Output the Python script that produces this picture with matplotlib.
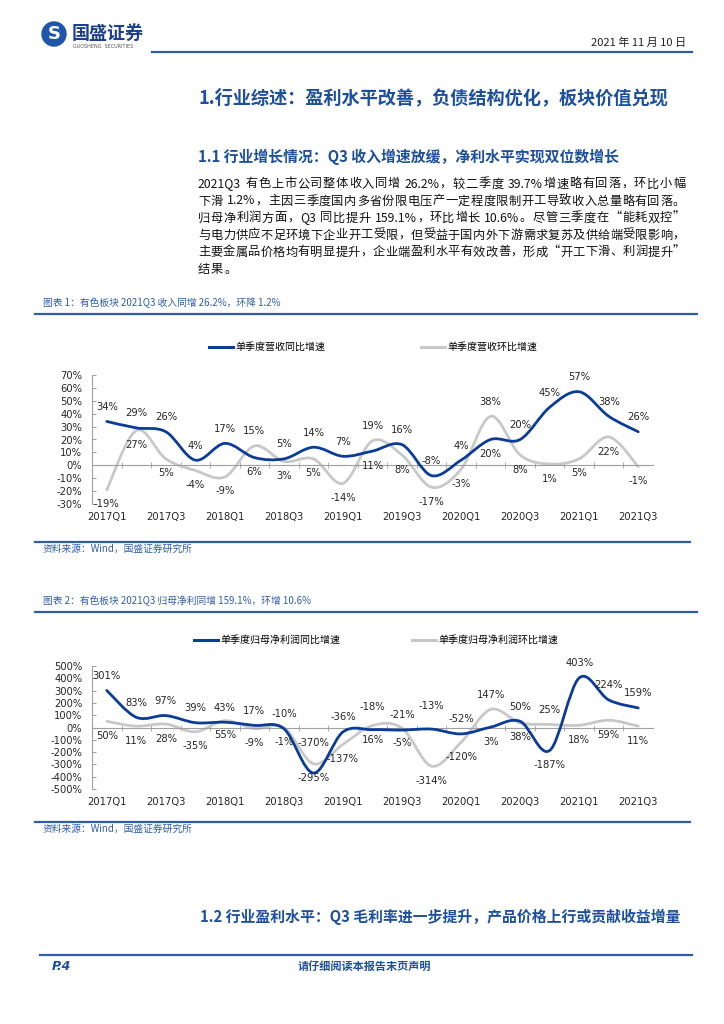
import re
import matplotlib
matplotlib.use('Agg')
import matplotlib.pyplot as plt
from matplotlib.path import Path
from matplotlib.patches import PathPatch, Circle
from matplotlib.lines import Line2D

plt.rcParams['font.family'] = ['DejaVu Sans', 'Noto Sans CJK SC']
CJK = ['Noto Sans CJK SC', 'DejaVu Sans']

# ---- data ----
quarters = ['2017Q1', '2017Q2', '2017Q3', '2017Q4', '2018Q1', '2018Q2', '2018Q3', '2018Q4',
            '2019Q1', '2019Q2', '2019Q3', '2019Q4', '2020Q1', '2020Q2', '2020Q3', '2020Q4',
            '2021Q1', '2021Q2', '2021Q3']

rev_yoy = [34, 29, 26, 4, 17, 6, 5, 14, 7, 11, 16, -8, 4, 20, 20, 45, 57, 38, 26]
rev_qoq = [-19, 27, 5, -4, -9, 15, 3, 5, -14, 19, 8, -17, -3, 38, 8, 1, 5, 22, -1]

profit_yoy = [301, 83, 97, 39, 43, 17, -10, -370, -36, -18, -21, -13, -52, 3, 50, -187, 403, 224, 159]
profit_qoq = [50, 11, 28, -35, 55, -9, -1, -295, -137, 16, -5, -314, -120, 147, 38, 25, 18, 59, 11]

rev_labels = ['单季度营收同比增速', '单季度营收环比增速']
profit_labels = ['单季度归母净利润同比增速', '单季度归母净利润环比增速']

body_lines = [
    '2021Q3 有色上市公司整体收入同增 26.2%，较二季度 39.7%增速略有回落，环比小幅',
    '下滑 1.2%，主因三季度国内多省份限电压产一定程度限制开工导致收入总量略有回落。',
    '归母净利润方面，Q3 同比提升 159.1%，环比增长 10.6%。尽管三季度在“能耗双控”',
    '与电力供应不足环境下企业开工受限，但受益于国内外下游需求复苏及供给端受限影响，',
    '主要金属品价格均有明显提升，企业端盈利水平有效改善，形成“开工下滑、利润提升”',
    '结果。',
]

BLUE = '#0b3c96'
GRAY = '#c8c8c8'
TBLUE = '#1c4f9c'
LBLUE = '#2f5ea8'

fig = plt.figure(figsize=(7.24, 10.24), dpi=100)
renderer = fig.canvas.get_renderer()


def fx(px):
    return px / 724


def fy(py):
    return 1 - py / 1024


def hline(y, x0, x1, color=LBLUE, lw=1.6):
    fig.add_artist(Line2D([fx(x0), fx(x1)], [fy(y), fy(y)], color=color, lw=lw))


def justified(line, x0, x1, y, size, stretch=True):
    tokens = re.findall(r'[A-Za-z0-9.%]+|\s|.', line)
    widths = []
    for tok in tokens:
        t = fig.text(0, 0, tok if tok != ' ' else 'a', family=CJK, fontsize=size)
        w = t.get_window_extent(renderer).width
        t.remove()
        widths.append(w * 0.45 if tok == ' ' else w)
    extra = (x1 - x0 - sum(widths)) / max(len(tokens) - 1, 1) if stretch else 0.8
    x = x0
    for tok, w in zip(tokens, widths):
        if tok != ' ':
            fig.text(fx(x), fy(y), tok, family=CJK, fontsize=size, color='#111111',
                     va='center')
        x += w + extra


def smooth_path(xs, ys):
    pts = list(zip(xs, ys))
    n = len(pts)
    verts = [pts[0]]
    codes = [Path.MOVETO]
    for i in range(n - 1):
        p0 = pts[i - 1] if i > 0 else pts[i]
        p1 = pts[i]
        p2 = pts[i + 1]
        p3 = pts[i + 2] if i + 2 < n else pts[i + 1]
        c1 = (p1[0] + (p2[0] - p0[0]) / 6, p1[1] + (p2[1] - p0[1]) / 6)
        c2 = (p2[0] - (p3[0] - p1[0]) / 6, p2[1] - (p3[1] - p1[1]) / 6)
        verts += [c1, c2, p2]
        codes += [Path.CURVE4] * 3
    return Path(verts, codes)


# ---- page header ----
fig.add_artist(Circle((0.54, 10.24 - 0.34), 0.12, transform=fig.dpi_scale_trans,
                      color='#1f56a8', zorder=3))
fig.text(fx(54), fy(34), 'S', color='white', fontsize=13, fontweight='bold',
         ha='center', va='center', zorder=4)
fig.text(fx(72), fy(33), '国盛证券', family=CJK, fontsize=13, fontweight='bold',
         color='#1b3f8f', va='center')
fig.text(fx(73), fy(46), 'GUOSHENG  SECURITIES', fontsize=3.5, color='#555555', va='center')
fig.text(fx(686), fy(43), '2021 年 11 月 10 日', family=CJK, fontsize=8, ha='right',
         va='center', color='#222222')
hline(52, 152, 692)

# ---- headings and body ----
fig.text(fx(198), fy(98), '1.行业综述：盈利水平改善，负债结构优化，板块价值兑现', family=CJK,
         fontsize=13.1, fontweight='bold', color=TBLUE, va='center')
fig.text(fx(198), fy(157), '1.1 行业增长情况：Q3 收入增速放缓，净利水平实现双位数增长', family=CJK,
         fontsize=10.7, fontweight='bold', color=TBLUE, va='center')
for k, line in enumerate(body_lines):
    justified(line, 198, 685, 184 + k * 17, 8.8, stretch=k < len(body_lines) - 1)

fig.text(fx(200), fy(917), '1.2 行业盈利水平：Q3 毛利率进一步提升，产品价格上行或贡献收益增量',
         family=CJK, fontsize=10.7, fontweight='bold', color=TBLUE, va='center')

# ---- footer ----
hline(955, 40, 692)
fig.text(fx(52), fy(966), 'P.4', fontsize=9, fontweight='bold', style='italic',
         color=TBLUE, va='center')
fig.text(fx(364), fy(966), '请仔细阅读本报告末页声明', family=CJK, fontsize=8,
         fontweight='bold', color=TBLUE, va='center', ha='center')


def draw_chart(ax, yoy, qoq, yoy_top, ylim, step, offsets):
    x = list(range(len(quarters)))
    ax.add_patch(PathPatch(smooth_path(x, qoq), fill=False, edgecolor=GRAY, lw=2.0,
                           capstyle='round', zorder=2))
    ax.add_patch(PathPatch(smooth_path(x, yoy), fill=False, edgecolor=BLUE, lw=2.0,
                           capstyle='round', zorder=3))
    ax.set_xlim(-0.5, len(quarters) - 0.5)
    ax.set_ylim(*ylim)
    for i in x:
        top = yoy_top[i]
        dy_b = offsets.get(i, 10.5)
        ax.annotate(f'{yoy[i]}%', (i, yoy[i]), xytext=(0, dy_b if top else -10.5),
                    textcoords='offset points', ha='center', va='center',
                    fontsize=7.2, color='#262626', zorder=5)
        ax.annotate(f'{qoq[i]}%', (i, qoq[i]), xytext=(0, -10.5 if top else 10.5),
                    textcoords='offset points', ha='center', va='center',
                    fontsize=7.2, color='#262626', zorder=5)
    for s in ['top', 'right']:
        ax.spines[s].set_visible(False)
    ax.spines['left'].set_color('#a0a0a0')
    ax.spines['bottom'].set_color('#a0a0a0')
    ax.spines['bottom'].set_position(('data', 0))
    ax.set_yticks(range(ylim[0], ylim[1] + 1, step))
    ax.set_yticklabels([f'{v}%' for v in range(ylim[0], ylim[1] + 1, step)])
    ax.tick_params(axis='y', direction='in', length=3, color='#a0a0a0', pad=7,
                   labelsize=7.2, labelcolor='#262626')
    ax.set_xticks([i + 0.5 for i in x[:-1]], minor=True)
    ax.set_xticks([])
    ax.tick_params(axis='x', which='minor', direction='inout', length=4, color='#a0a0a0')
    sec = ax.secondary_xaxis(0)
    sec.set_xticks(x[::2])
    sec.set_xticklabels(quarters[::2])
    sec.tick_params(length=0, pad=6, labelsize=7.2, labelcolor='#262626')
    sec.spines['bottom'].set_visible(False)
    ax.patch.set_visible(False)


# ---- chart 1 ----
fig.text(fx(43), fy(303), '图表 1：有色板块 2021Q3 收入同增 26.2%，环降 1.2%', family=CJK,
         fontsize=7, color=LBLUE, va='center')
hline(314, 35, 697)
ax1 = fig.add_axes([fx(92), fy(504), (653 - 92) / 724, (504 - 375) / 1024])
rev_top = [a >= b for a, b in zip(rev_yoy, rev_qoq)]
draw_chart(ax1, rev_yoy, rev_qoq, rev_top, (-30, 70), 10, {})
h = [Line2D([], [], color=BLUE, lw=2.2), Line2D([], [], color=GRAY, lw=2.2)]
fig.legend(h, rev_labels, loc='center', bbox_to_anchor=(fx(373), fy(347)), ncol=2,
           frameon=False, prop={'family': CJK, 'size': 7.2}, handlelength=2.4,
           handletextpad=0.2, columnspacing=9.6)
hline(542, 35, 690)
fig.text(fx(43), fy(549), '资料来源：Wind，国盛证券研究所', family=CJK, fontsize=7,
         color=LBLUE, va='center')

# ---- chart 2 ----
fig.text(fx(43), fy(601), '图表 2：有色板块 2021Q3 归母净利同增 159.1%，环增 10.6%', family=CJK,
         fontsize=7, color=LBLUE, va='center')
hline(612, 35, 697)
ax2 = fig.add_axes([fx(92), fy(789), (653 - 92) / 724, (789 - 666) / 1024])
profit_top = [True] * len(quarters)
profit_top[13] = False
profit_top[15] = False
draw_chart(ax2, profit_yoy, profit_qoq, profit_top, (-500, 500), 100,
           {7: 21.5, 9: 16, 11: 16.5})
fig.legend(h, profit_labels, loc='center', bbox_to_anchor=(fx(376), fy(640)), ncol=2,
           frameon=False, prop={'family': CJK, 'size': 7.2}, handlelength=2.4,
           handletextpad=0.2, columnspacing=7.2)
hline(822, 35, 690)
fig.text(fx(43), fy(829), '资料来源：Wind，国盛证券研究所', family=CJK, fontsize=7,
         color=LBLUE, va='center')

fig.savefig('out.png', dpi=100)
